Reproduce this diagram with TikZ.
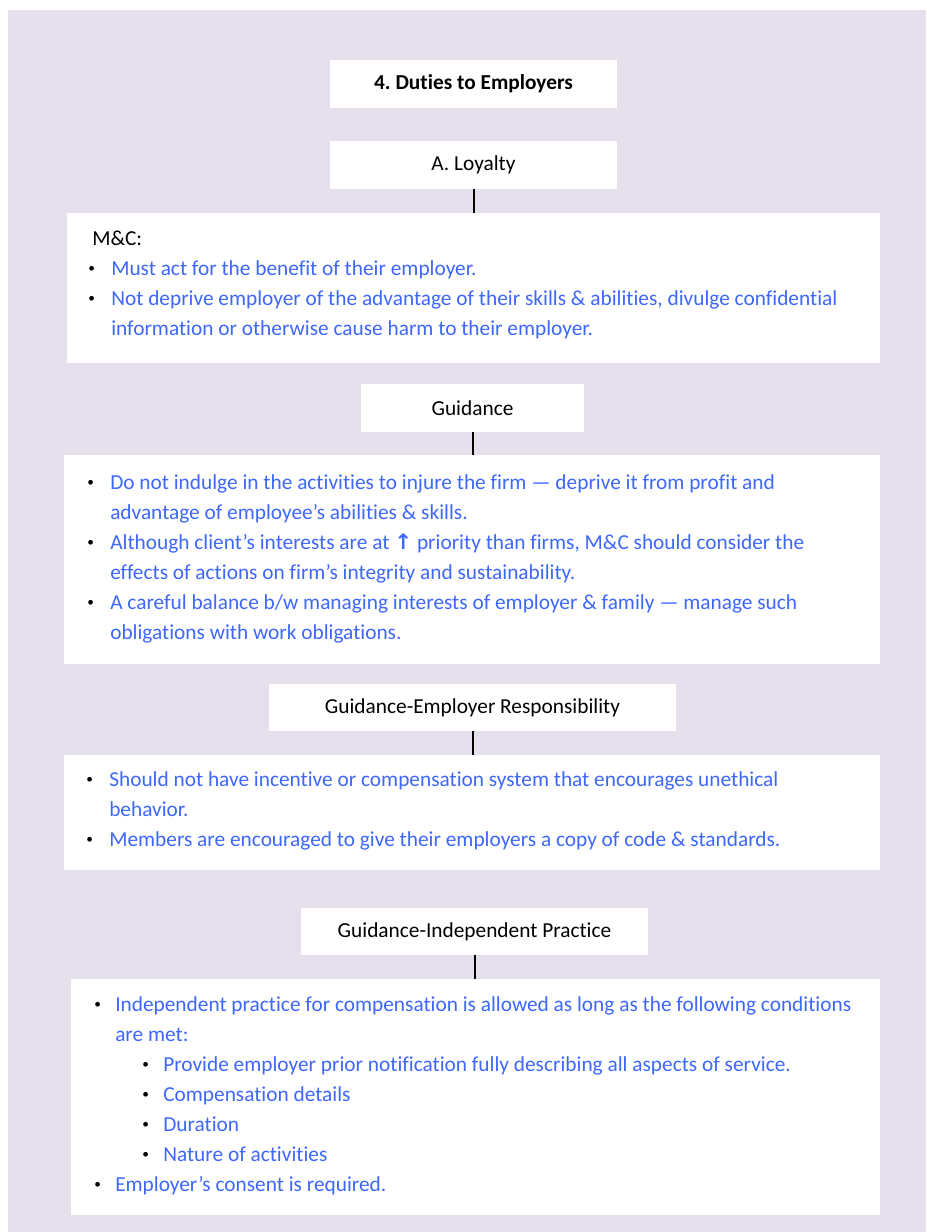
\documentclass[tikz,border=0pt]{standalone}
\usepackage{fontspec}
\setmainfont{Carlito}[Ligatures=NoCommon]
\newfontfamily\arrowfont{DejaVu Sans}
\usetikzlibrary{positioning}
\frenchspacing
\definecolor{lavbg}{RGB}{229,224,236}
\definecolor{txtblue}{RGB}{62,104,252}
\newcommand{\dotmark}{\raisebox{2.2pt}{\color{black}\fontsize{10}{10}\selectfont\textbullet}}
\newcommand{\bitem}[1][17.25pt]{\makebox[#1][l]{\dotmark}}
\begin{document}
\begin{tikzpicture}[x=0.75pt,y=-0.75pt,
  hdr/.style={fill=white,minimum height=36pt,inner sep=0pt,font=\fontsize{16}{19}\selectfont},
  panel/.style={fill=white,inner sep=0pt},
  bodytxt/.style={anchor=north west,inner sep=0pt,align=left,text=txtblue,font=\fontsize{16}{22.5}\selectfont},
  link/.style={line width=1.5pt}]
\useasboundingbox (0,0) rectangle (926,1232);
% sfondo
\fill[lavbg] (8,10) rectangle (926,1232);
% titoli
\node[hdr,minimum width=215.25pt,font=\fontsize{16}{19}\selectfont\bfseries] (title) at (473.5,84) {4. Duties to Employers};
\node[hdr,minimum width=215.25pt] (loyalty) at (473.5,165) {A. Loyalty};
\node[hdr,minimum width=167.25pt] (guide) at (472.5,408) {Guidance};
\node[hdr,minimum width=305.25pt,minimum height=35.25pt] (guideemp) at (472.5,707.5) {Guidance-Employer Responsibility};
\node[hdr,minimum width=260.25pt,minimum height=35.25pt] (guideind) at (474.5,931.5) {Guidance-Independent Practice};
% riquadri
\node[panel,minimum width=609.75pt,minimum height=112.5pt] (loyaltybox) at (473.5,288) {};
\node[panel,minimum width=612pt,minimum height=156.75pt] (guidebox) at (472,559.5) {};
\node[panel,minimum width=612pt,minimum height=86.25pt] (guideempbox) at (472,812.5) {};
\node[panel,minimum width=606.75pt,minimum height=177pt] (guideindbox) at (475.5,1097) {};
% collegamenti
\draw[link] (loyalty.south) -- (loyalty.south |- loyaltybox.north);
\draw[link] (guide.south) -- (guide.south |- guidebox.north);
\draw[link] (guideemp.south) -- (guideemp.south |- guideempbox.north);
\draw[link] (guideind.south) -- (guideind.south |- guideindbox.north);
% testi
\node[bodytxt] (loyaltytxt) at (88,224) {\strut\hspace*{3pt}\textcolor{black}{M\&C:}\\
\bitem\strut Must act for the benefit of their employer.\\
\bitem\strut Not deprive employer of the advantage of their skills \& abilities, divulge confidential\\
\hspace*{17.25pt}\strut information or otherwise cause harm to their employer.};
\node[bodytxt] (guidetxt) at (87,468) {\bitem\strut Do not indulge in the activities to injure the firm — deprive it from profit and\\
\hspace*{17.25pt}\strut advantage of employee’s abilities \& skills.\\
\bitem\strut Although client’s interests are at {\arrowfont\bfseries ↑} priority than firms, M\&C should consider the\\
\hspace*{17.25pt}\strut effects of actions on firm’s integrity and sustainability.\\
\bitem\strut A careful balance b/w managing interests of employer \& family — manage such\\
\hspace*{17.25pt}\strut obligations with work obligations.};
\node[bodytxt] (guideemptxt) at (86,765) {\bitem\strut Should not have incentive or compensation system that encourages unethical\\
\hspace*{17.25pt}\strut behavior.\\
\bitem\strut Members are encouraged to give their employers a copy of code \& standards.};
\node[bodytxt] (guideindtxt) at (94,990) {\bitem[15.75pt]\strut Independent practice for compensation is allowed as long as the following conditions\\
\hspace*{15.75pt}\strut are met:\\
\hspace*{36pt}\bitem[15.75pt]\strut Provide employer prior notification fully describing all aspects of service.\\
\hspace*{36pt}\bitem[15.75pt]\strut Compensation details\\
\hspace*{36pt}\bitem[15.75pt]\strut Duration\\
\hspace*{36pt}\bitem[15.75pt]\strut Nature of activities\\
\bitem[15.75pt]\strut Employer’s consent is required.};
\end{tikzpicture}
\end{document}
